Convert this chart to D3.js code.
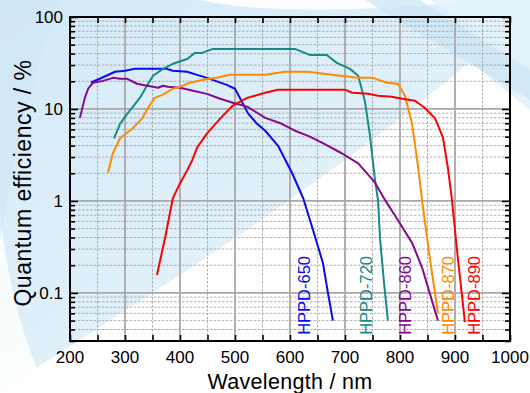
<!DOCTYPE html>
<html><head><meta charset="utf-8">
<script src="https://cdn.jsdelivr.net/npm/d3@7"></script>
<style>body{margin:0;background:#fff}svg{display:block;font-family:Arial,"Liberation Sans",sans-serif}</style>
</head><body>
<svg id="c" width="530" height="393"></svg>
<script>
// ---- data (wavelength nm, quantum efficiency %) ----
const series = ["HPPD-650","HPPD-720","HPPD-860","HPPD-870","HPPD-890"];
const colors = ["#0a0aee","#178a8a","#840a8c","#ff8c00","#ff0000"];
const hppd650 = [[238,19.4],[254,21.3],[282,25.4],[300,26.0],[318,27.3],[376,27.3],[387,26.0],[413,25.4],[431,23.5],[449,21.8],[485,18.3],[500,16.6],[524,8.9],[540,6.9],[555,5.8],[578,4.0],[604,2.0],[624,1.07],[642,0.48],[660,0.21],[669,0.1],[678,0.05]];
const hppd720 = [[280,4.8],[291,6.9],[302,8.5],[327,13.2],[342,18.8],[351,23],[369,27.3],[387,31],[413,35],[427,40.7],[440,40.7],[460,45],[555,45],[609,45],[636,38.7],[667,38.7],[685,31.7],[709,27.3],[724,23],[736,12.3],[745,5.4],[754,1.8],[760,1.02],[764,0.37],[771,0.128],[778,0.05]];
const hppd860 = [[218,8.0],[227,13.2],[233,16.6],[242,19.3],[260,20.2],[278,21.8],[291,21.3],[304,21.3],[322,18.8],[340,17.9],[351,17.4],[360,17.0],[369,17.9],[378,17.4],[400,17.0],[424,15.8],[449,14.6],[473,12.9],[496,11.7],[522,10.6],[555,8.0],[585,6.9],[609,5.8],[633,5.1],[658,4.3],[694,3.3],[724,2.56],[754,1.6],[773,1.02],[796,0.62],[822,0.35],[840,0.19],[869,0.05]];
const hppd870 = [[269,2.04],[278,3.3],[291,4.8],[313,6.1],[331,7.85],[342,10.3],[354,13.2],[369,14.3],[387,16.6],[400,17.4],[418,19.3],[442,20.8],[467,21.8],[491,23.5],[555,23.5],[591,25.4],[633,25.4],[676,23.5],[724,21.8],[751,21.8],[776,19.3],[796,18.8],[809,13.9],[822,6.9],[833,2.3],[840,1.02],[854,0.245],[869,0.06]];
const hppd890 = [[358,0.156],[373,0.40],[387,1.07],[400,1.55],[413,2.15],[422,2.75],[431,3.8],[449,5.4],[473,7.85],[496,10.9],[522,13.2],[555,15.0],[578,16.2],[700,16.2],[713,15.0],[742,14.6],[760,13.9],[785,13.6],[804,12.9],[827,12.3],[845,10.3],[864,7.85],[878,4.9],[887,2.3],[894,1.09],[905,0.245],[918,0.048]];
const seriesData = [hppd650,hppd720,hppd860,hppd870,hppd890];
const labelNm = [637,749,820,899,946];   // label anchor wavelength
const labelVal = 0.035;                  // label anchor efficiency
const xTickLabels = [200,300,400,500,600,700,800,900,1000];
const yTickLabels = ["0.1","1","10","100"];
const xTitle = "Wavelength / nm";
const yTitle = "Quantum efficiency / %";

// ---- layout ----
const svg = d3.select("#c");
const L=70,R=510,T=17,B=341;
const x = d3.scaleLinear().domain([200,1000]).range([L,R]);
const y = d3.scaleLog().domain([0.03,100]).range([B,T]);

// background decoration
const defs = svg.append("defs");
const g1 = defs.append("linearGradient").attr("id","lg").attr("x1","0").attr("y1","0").attr("x2","1").attr("y2","1");
g1.append("stop").attr("offset","0").attr("stop-color","#d3e9f7");
g1.append("stop").attr("offset","1").attr("stop-color","#eef7fc");
svg.append("path").attr("d","M0,0 L530,0 L530,110 L470,62 C400,120 300,200 70,346 C40,365 20,380 0,393 Z").attr("fill","url(#lg)");
svg.append("path").attr("d","M0,215 C10,300 30,360 50,393 L0,393 Z").attr("fill","#ffffff").attr("opacity",0.85);
svg.append("path").attr("d","M200,0 C260,14 380,12 470,0 Z").attr("fill","#ffffff").attr("opacity",0.9);
svg.append("path").attr("d","M365,0 L420,0 L530,70 L530,100 Z").attr("fill","#c9e4f5").attr("opacity",0.7);
svg.append("path").attr("d","M430,0 L530,0 L530,60 Z").attr("fill","#e4f2fb").attr("opacity",0.8);
svg.append("path").attr("d","M0,0 L60,0 C30,80 15,160 0,240 Z").attr("fill","#cfe6f6").attr("opacity",0.6);

// grid
const gx = svg.append("g");
const minorX = d3.range(250,1000,100);
const majorX = d3.range(300,1000,100);
gx.selectAll(".mx").data(minorX).join("line").attr("x1",d=>x(d)).attr("x2",d=>x(d)).attr("y1",T).attr("y2",B)
  .attr("stroke","#9a9a9a").attr("stroke-width",0.8).attr("stroke-dasharray","2.5,1.5");
const yMinor = [];
[0.01,0.1,1,10].forEach(dec=>{for(let k=2;k<=9;k++){const v=dec*k; if(v>=0.03&&v<100) yMinor.push(v);}});
const yMajor = [0.1,1,10];
gx.selectAll(".my").data(yMinor).join("line").attr("x1",L).attr("x2",R).attr("y1",d=>y(d)).attr("y2",d=>y(d))
  .attr("stroke","#9a9a9a").attr("stroke-width",0.8).attr("stroke-dasharray","2.5,1.5");
gx.selectAll(".Mx").data(majorX).join("line").attr("x1",d=>x(d)).attr("x2",d=>x(d)).attr("y1",T).attr("y2",B)
  .attr("stroke","#a8a8a8").attr("stroke-width",1.8);
gx.selectAll(".My").data(yMajor).join("line").attr("x1",L).attr("x2",R).attr("y1",d=>y(d)).attr("y2",d=>y(d))
  .attr("stroke","#a8a8a8").attr("stroke-width",1.8);

// curves
const line = d3.line().x(d=>x(d[0])).y(d=>y(d[1]));
svg.append("g").selectAll("path").data(seriesData).join("path")
  .attr("d",line).attr("fill","none").attr("stroke",(d,i)=>colors[i]).attr("stroke-width",2).attr("stroke-linejoin","round");

// labels
svg.append("g").selectAll("text").data(series).join("text")
  .attr("transform",(d,i)=>`translate(${x(labelNm[i])},${y(labelVal)}) rotate(-90)`)
  .attr("fill",(d,i)=>colors[i]).attr("font-size",16.5).text(d=>d);

// axes (inward ticks)
const allX = d3.range(200,1001,50);
const yTicksAll = yMinor.concat([0.1,1,10,100]);
const ax = svg.append("g");
ax.append("g").attr("transform",`translate(0,${B})`).call(d3.axisBottom(x).tickValues(allX).tickSizeInner(-6).tickSizeOuter(0).tickFormat(""));
ax.append("g").attr("transform",`translate(0,${T})`).call(d3.axisTop(x).tickValues(allX).tickSizeInner(-6).tickSizeOuter(0).tickFormat(""));
const isMaj = v=>[0.1,1,10,100].some(m=>Math.abs(v-m)<1e-9);
["left","right"].forEach(side=>{
  const g = ax.append("g").attr("transform",`translate(${side==="left"?L:R},0)`);
  const a = (side==="left"?d3.axisLeft(y):d3.axisRight(y)).tickValues(yTicksAll).tickSizeOuter(0).tickFormat("");
  g.call(a);
  g.selectAll(".tick line").attr("x2",d=>(side==="left"?1:-1)*(isMaj(d)?8:5));
});
ax.selectAll(".domain").remove();
ax.selectAll(".tick line").attr("stroke","#000").attr("stroke-width",1.6);
svg.append("rect").attr("x",L).attr("y",T).attr("width",R-L).attr("height",B-T).attr("fill","none").attr("stroke","#000").attr("stroke-width",2);

// tick labels
svg.append("g").selectAll("text").data(xTickLabels).join("text")
  .attr("x",d=>x(d)).attr("y",363).attr("text-anchor","middle").attr("font-size",17).attr("fill","#000").text(d=>d);
svg.append("g").selectAll("text").data(yTickLabels).join("text")
  .attr("x",L-7).attr("y",d=>y(+d)).attr("dy","0.36em").attr("text-anchor","end").attr("font-size",17).attr("fill","#000").text(d=>d);

// titles
svg.append("text").attr("x",(L+R)/2+0).attr("y",389).attr("text-anchor","middle").attr("font-size",21.5).attr("letter-spacing",0.3).text(xTitle);
svg.append("text").attr("transform",`translate(31,${183}) rotate(-90)`).attr("text-anchor","middle").attr("font-size",23).attr("letter-spacing",0.5).text(yTitle);
</script>
</body></html>
